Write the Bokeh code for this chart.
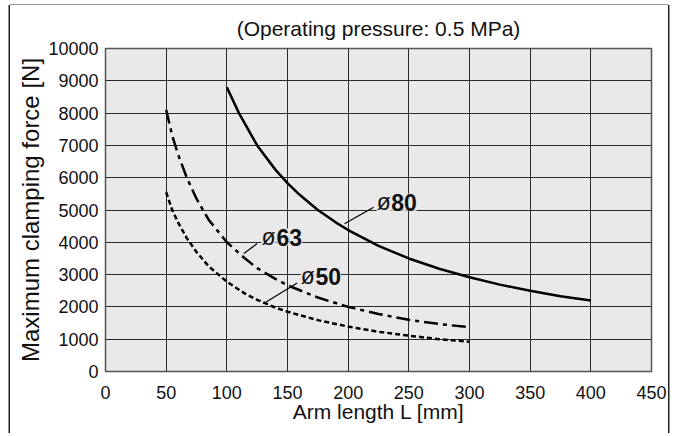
from bokeh.plotting import figure
from bokeh.models import Range1d, FixedTicker, Label
from bokeh.embed import file_html
from bokeh.resources import INLINE

# ---- data ----
x_ticks = [0, 50, 100, 150, 200, 250, 300, 350, 400, 450]
y_ticks = [0, 1000, 2000, 3000, 4000, 5000, 6000, 7000, 8000, 9000, 10000]

L80 = [100, 110, 125, 140, 150, 160, 175, 190, 200, 225, 250, 275, 300, 325, 350, 375, 400]
F80 = [8800, 8000, 7000, 6250, 5830, 5470, 5000, 4610, 4380, 3890, 3500, 3180, 2920, 2690, 2500, 2330, 2200]

L63 = [50, 55, 60, 67, 75, 85, 100, 115, 125, 140, 150, 175, 200, 225, 250, 275, 300]
F63 = [8100, 7300, 6700, 6000, 5350, 4700, 4000, 3500, 3200, 2870, 2670, 2290, 2000, 1780, 1600, 1470, 1370]

L50 = [50, 55, 60, 67, 75, 85, 100, 115, 125, 140, 150, 175, 200, 225, 250, 275, 300]
F50 = [5550, 5000, 4600, 4130, 3700, 3260, 2780, 2410, 2220, 1980, 1850, 1590, 1390, 1230, 1110, 1000, 920]

# curve labels: bore text, x of "ø", x of number, y; leader lines
bores = ["80", "63", "50"]
sym_x = [223.5, 128.5, 161]
num_x = [235.5, 141, 173]
lab_y = [5240, 4163, 2954]
lead_x = [[197, 221], [114, 125], [130, 158]]
lead_y = [[4575, 5086], [3652, 3960], [2100, 2738]]

FONT = "Liberation Sans"
BG = "#e8e9e8"

p = figure(width=658, height=428, output_backend="svg", toolbar_location=None,
           x_range=Range1d(0, 450), y_range=Range1d(0, 10000),
           min_border_left=95, min_border_right=17, min_border_top=41, min_border_bottom=62)
# thin outer frame like the reference (box-shadow does not change the layout)
p.styles = {"margin-left": "10px", "margin-top": "5px",
            "box-shadow": "-1.5px 0 0 0 #222, 1.5px 0 0 0 #222, 0 -1px 0 0 #999"}

p.title.text = "(Operating pressure: 0.5 MPa)"
p.title.align = "center"
p.title.text_font = FONT
p.title.text_font_size = "21px"
p.title.text_font_style = "normal"
p.title.text_color = "#111"
p.title.standoff = 18

p.background_fill_color = BG
p.border_fill_color = "white"
p.outline_line_color = "#555"
p.outline_line_width = 1.5

for ax in (p.xaxis[0], p.yaxis[0]):
    ax.axis_line_color = None
    ax.major_tick_line_color = None
    ax.minor_tick_line_color = None
    ax.major_tick_out = 0
    ax.major_tick_in = 0
    ax.major_label_text_font = FONT
    ax.major_label_text_font_size = "18px"
    ax.major_label_text_color = "#111"
    ax.axis_label_text_font = FONT
    ax.axis_label_text_font_style = "normal"
    ax.axis_label_text_color = "#111"

p.xaxis.ticker = FixedTicker(ticks=x_ticks)
p.yaxis.ticker = FixedTicker(ticks=y_ticks)
p.xaxis.major_label_standoff = 14
p.yaxis.major_label_standoff = 7

p.xaxis.axis_label = "Arm length L [mm]"
p.xaxis.axis_label_text_font_size = "21px"
p.xaxis.axis_label_standoff = -2

p.yaxis.axis_label = "Maximum clamping force [N]"
p.yaxis.axis_label_text_font_size = "24px"
p.yaxis.axis_label_standoff = 1

p.xgrid.ticker = FixedTicker(ticks=x_ticks)
p.ygrid.ticker = FixedTicker(ticks=y_ticks)
for g in (p.xgrid[0], p.ygrid[0]):
    g.grid_line_color = "#2a2a2a"
    g.grid_line_width = 1

# curves
p.line(L80, F80, line_color="black", line_width=2.5)
p.line(L63, F63, line_color="black", line_width=2.5, line_dash="14 5 4 5")
p.line(L50, F50, line_color="black", line_width=2.5, line_dash="5 3")

# leader lines
for lx, ly in zip(lead_x, lead_y):
    p.line(lx, ly, line_color="black", line_width=1.2)

# curve labels
for b, sx, nx, ly in zip(bores, sym_x, num_x, lab_y):
    p.add_layout(Label(x=sx, y=ly, text="ø", text_font=FONT, text_font_size="23px",
                       text_baseline="middle", text_align="left", text_color="#111",
                       background_fill_color=BG))
    p.add_layout(Label(x=nx, y=ly, text=b, text_font=FONT, text_font_size="23px",
                       text_font_style="bold", text_baseline="middle", text_align="left",
                       text_color="#111", background_fill_color=BG))

open("out.html", "w").write(file_html(p, INLINE))
